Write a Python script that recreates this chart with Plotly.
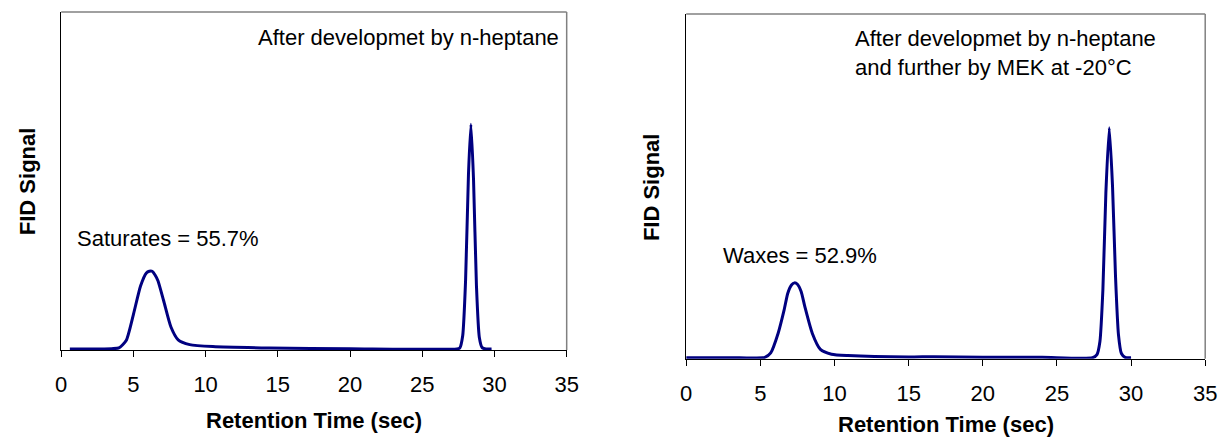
import plotly.graph_objects as go

W, H = 1231, 437

# ---- data ----
time_hept = [0.6, 2.0, 3.5, 4.0, 4.5, 5.0, 5.5, 5.9, 6.1, 6.3, 6.5, 6.7, 7.1, 7.6, 8.1, 8.9,
             10.5, 14.4, 20.0, 27.4, 27.6, 27.8, 28.0, 28.2, 28.37, 28.55, 28.75, 28.95, 29.15,
             29.4, 29.8]
fid_hept = [0.003, 0.003, 0.004, 0.006, 0.028, 0.105, 0.19, 0.228, 0.233, 0.233, 0.222, 0.205,
            0.145, 0.068, 0.03, 0.016, 0.010, 0.006, 0.004, 0.003, 0.006, 0.042, 0.206, 0.52,
            0.668, 0.505, 0.193, 0.038, 0.007, 0.003, 0.003]

time_mek = [0.0, 3.0, 5.3, 5.7, 6.2, 6.6, 6.85, 7.1, 7.3, 7.5, 7.75, 8.0, 8.5, 9.05, 9.8, 10.9,
            15.0, 16.7, 20.0, 24.0, 27.4, 27.7, 27.9, 28.1, 28.3, 28.53, 28.75, 28.95, 29.15,
            29.35, 29.6, 30.0]
fid_mek = [0.003, 0.003, 0.004, 0.017, 0.074, 0.141, 0.19, 0.214, 0.22, 0.216, 0.195, 0.151,
           0.074, 0.027, 0.013, 0.009, 0.005, 0.006, 0.004, 0.004, 0.003, 0.012, 0.05, 0.2,
           0.48, 0.67, 0.5, 0.24, 0.07, 0.015, 0.004, 0.003]

x_ticks = [0, 5, 10, 15, 20, 25, 30, 35]
x_title = "Retention Time (sec)"
y_title = "FID Signal"
label_hept = "After developmet by n-heptane"
label_mek = "After developmet by n-heptane<br>and further by MEK at -20°C"
peak_hept = "Saturates = 55.7%"
peak_mek = "Waxes = 52.9%"

FONT = "Liberation Sans, Arial, sans-serif"
LINE = "#000080"

fig = go.Figure()
fig.add_trace(go.Scatter(x=time_hept, y=fid_hept, mode="lines",
                         line=dict(color=LINE, width=3, shape="spline", smoothing=0.6),
                         xaxis="x", yaxis="y", showlegend=False, hoverinfo="skip"))
fig.add_trace(go.Scatter(x=time_mek, y=fid_mek, mode="lines",
                         line=dict(color=LINE, width=3, shape="spline", smoothing=0.6),
                         xaxis="x2", yaxis="y2", showlegend=False, hoverinfo="skip"))

def px_x(p):
    return p / W

def px_y(p):
    return 1 - p / H

xa = dict(range=[0, 35], tickvals=x_ticks, ticks="outside", ticklen=6, tickcolor="black",
          tickwidth=1, showline=True, linecolor="black", linewidth=1, showgrid=False,
          zeroline=False, tickfont=dict(family=FONT, size=22, color="black"),
          ticklabelstandoff=9, fixedrange=True)
ya = dict(range=[0, 1], showticklabels=False, ticks="", showline=True, linecolor="black",
          linewidth=1, showgrid=False, zeroline=False, fixedrange=True)

fig.update_layout(
    width=W, height=H, margin=dict(l=0, r=0, t=0, b=0),
    paper_bgcolor="white", plot_bgcolor="white",
    xaxis=dict(xa, domain=[px_x(56), px_x(569)], anchor="y"),
    yaxis=dict(ya, domain=[px_y(350), px_y(12)], anchor="x"),
    xaxis2=dict(xa, domain=[px_x(690.3), px_x(1217)], anchor="y2"),
    yaxis2=dict(ya, domain=[px_y(358.7), px_y(14)], anchor="x2"),
)

shapes = []
for xr, yr in (("x domain", "y domain"), ("x2 domain", "y2 domain")):
    shapes.append(dict(type="line", xref=xr, yref=yr, x0=0, x1=1, y0=1, y1=1,
                       line=dict(color="#808080", width=1.5)))
    shapes.append(dict(type="line", xref=xr, yref=yr, x0=1, x1=1, y0=0, y1=1,
                       line=dict(color="#808080", width=1.5)))
fig.update_layout(shapes=shapes)

tf = dict(family=FONT, size=22, color="black")
bf = dict(family=FONT, size=22, color="black", weight="bold")
ann = [
    dict(text=label_hept, x=px_x(563), y=px_y(37.5), xanchor="right", yanchor="middle", font=tf),
    dict(text=peak_hept, x=px_x(69.6), y=px_y(238), xanchor="left", yanchor="middle", font=tf),
    dict(text=label_mek, x=px_x(860), y=px_y(53.3), xanchor="left", yanchor="middle",
         align="left", font=tf),
    dict(text=peak_mek, x=px_x(726), y=px_y(255), xanchor="left", yanchor="middle", font=tf),
    dict(text="<b>" + x_title + "</b>", x=px_x(313), y=px_y(420), xanchor="center",
         yanchor="middle", font=bf),
    dict(text="<b>" + x_title + "</b>", x=px_x(954), y=px_y(424), xanchor="center",
         yanchor="middle", font=bf),
    dict(text="<b>" + y_title + "</b>", x=px_x(22), y=px_y(181.5), xanchor="center",
         yanchor="middle", textangle=-90, font=bf),
    dict(text="<b>" + y_title + "</b>", x=px_x(655), y=px_y(186.7), xanchor="center",
         yanchor="middle", textangle=-90, font=bf),
]
for a in ann:
    a.update(xref="paper", yref="paper", showarrow=False)
fig.update_layout(annotations=ann)

fig.write_html("out.html", config={"displayModeBar": False})
